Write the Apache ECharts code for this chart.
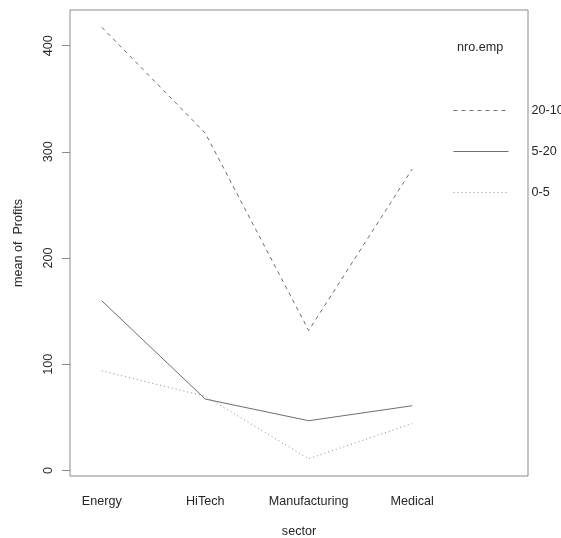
<!DOCTYPE html>
<html>
<head>
<meta charset="utf-8">
<script src="https://cdn.jsdelivr.net/npm/echarts@6/dist/echarts.min.js"></script>
<style>
  html, body { margin: 0; padding: 0; background: #fff; }
  #chart { width: 561px; height: 538px; }
</style>
</head>
<body>
<div id="chart"></div>
<script>
// Mean profits by sector, one trace per employee-count group
const sectors = ['Energy', 'HiTech', 'Manufacturing', 'Medical'];
const groups = ['20-100', '5-20', '0-5'];
const profits20to100 = [417.3, 317.6, 131.8, 283.7];
const profits5to20 = [159.7, 67.2, 46.8, 60.9];
const profits0to5 = [93.8, 69.8, 11.0, 44.2];
const yTicks = [0, 100, 200, 300, 400];

const lineColor = '#6e6e6e';
const textColor = '#262626';
const font = 'Liberation Sans, Arial, Helvetica, sans-serif';
const fs = 12.6;

function toPoints(values) {
  return values.map((v, i) => [i + 1, v]);
}

const allValues = profits20to100.concat(profits5to20, profits0to5);
const lo = Math.min(...allValues), hi = Math.max(...allValues);
const pad = (hi - lo) * 0.04;

const chart = echarts.init(document.getElementById('chart'), null, { renderer: 'canvas' });

chart.setOption({
  animation: false,
  backgroundColor: '#fff',
  grid: {
    left: 70, top: 10, right: 33, bottom: 62,
    outerBoundsMode: 'none',
    containLabel: false,
    show: true, borderColor: '#8a8a8a', borderWidth: 1, backgroundColor: 'transparent'
  },
  title: {
    text: 'nro.emp',
    left: 457, top: 41,
    padding: 0,
    textStyle: { fontFamily: font, fontSize: fs, fontWeight: 'normal', color: textColor }
  },
  legend: {
    orient: 'vertical',
    left: 453, top: 104,
    padding: 0,
    itemWidth: 55, itemHeight: 12,
    itemGap: 28,
    data: groups,
    itemStyle: { color: 'transparent', borderWidth: 0, opacity: 0 },
    lineStyle: { width: 1 },
    textStyle: { fontFamily: font, fontSize: fs, color: textColor, padding: [0, 0, 0, 18] },
    selectedMode: false
  },
  xAxis: {
    type: 'value',
    min: 0.6925, max: 5.12,
    name: 'sector',
    nameLocation: 'middle',
    nameGap: 49,
    nameTextStyle: { fontFamily: font, fontSize: fs, color: textColor },
    axisLine: { show: false },
    axisTick: { show: false },
    splitLine: { show: false },
    axisLabel: {
      customValues: sectors.map((s, i) => i + 1),
      formatter: v => sectors[Math.round(v) - 1] || '',
      margin: 19,
      fontFamily: font, fontSize: fs, color: textColor
    }
  },
  yAxis: {
    type: 'value',
    min: lo - pad, max: hi + pad,
    name: 'mean of  Profits',
    nameLocation: 'middle',
    nameGap: 45,
    nameRotate: 90,
    nameTextStyle: { fontFamily: font, fontSize: fs, color: textColor },
    axisLine: { show: false },
    splitLine: { show: false },
    axisTick: {
      show: true,
      customValues: yTicks,
      length: 8,
      lineStyle: { color: '#8a8a8a', width: 1 }
    },
    axisLabel: {
      customValues: yTicks,
      rotate: 90,
      margin: 15,
      fontFamily: font, fontSize: fs, color: textColor
    }
  },
  series: [
    {
      name: groups[0], type: 'line', symbol: 'none',
      data: toPoints(profits20to100),
      lineStyle: { color: lineColor, width: 1, type: [4, 4] },
      itemStyle: { color: lineColor }
    },
    {
      name: groups[1], type: 'line', symbol: 'none',
      data: toPoints(profits5to20),
      lineStyle: { color: lineColor, width: 1, type: 'solid' },
      itemStyle: { color: lineColor }
    },
    {
      name: groups[2], type: 'line', symbol: 'none',
      data: toPoints(profits0to5),
      lineStyle: { color: '#8a8a8a', width: 1, type: [1, 3] },
      itemStyle: { color: '#8a8a8a' }
    }
  ]
});
</script>
</body>
</html>
